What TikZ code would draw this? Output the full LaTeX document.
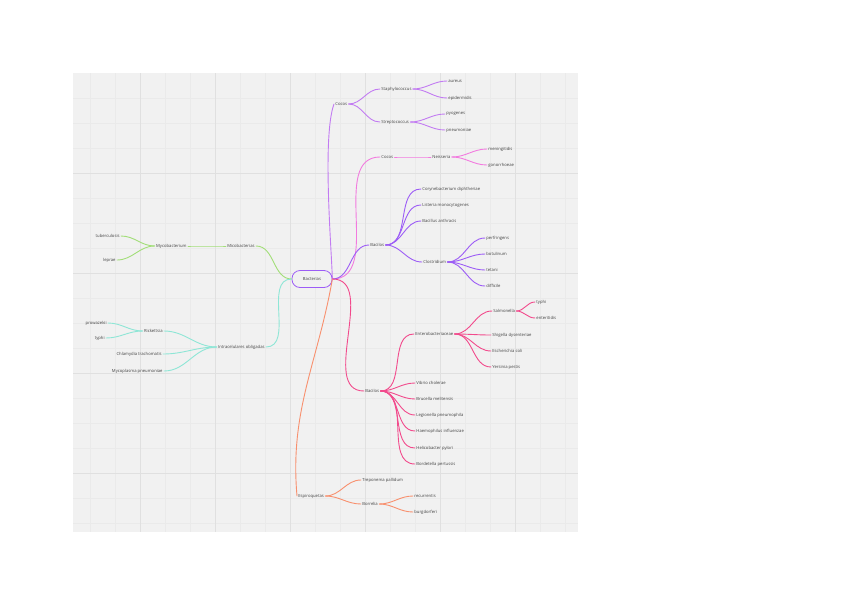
\documentclass[tikz,border=0pt]{standalone}
\usepackage{fontspec}
\setmainfont{Open Sans}
\usetikzlibrary{arrows.meta, positioning, calc}

\definecolor{gridbg}{HTML}{F1F1F1}
\definecolor{gridln}{HTML}{EAEAEA}
\definecolor{gridmj}{HTML}{E0E0E0}
\definecolor{txt}{HTML}{444444}
\definecolor{cgpos}{HTML}{C27BF2}
\definecolor{cgneg}{HTML}{F27ADF}
\definecolor{bgpos}{HTML}{9C5CF6}
\definecolor{bgneg}{HTML}{F24A8C}
\definecolor{espc}{HTML}{F8906E}
\definecolor{micc}{HTML}{A2DE78}
\definecolor{intc}{HTML}{8EE6D6}

\begin{document}
\begin{tikzpicture}[
  x=1pt, y=-1pt,
  every node/.style={font=\fontsize{4.2}{5}\selectfont, text=txt, inner sep=1.2pt},
  rt/.style={anchor=west},
  lt/.style={anchor=east},
  br/.style={line width=0.9pt, line cap=round},
  root/.style={draw=bgpos, line width=0.8pt, rounded corners=8pt, fill=gridbg,
               minimum width=40pt, minimum height=17pt}
]
\useasboundingbox (0,0) rectangle (848,600);

% background grid
\fill[gridbg] (73,73) rectangle (578,532);
\foreach \gx in {90,115,...,565} \draw[gridln, line width=0.5pt] (\gx,73) -- (\gx,532);
\foreach \gy in {98,123,...,523} \draw[gridln, line width=0.5pt] (73,\gy) -- (578,\gy);
\foreach \gx in {140,215,...,515} \draw[gridmj, line width=0.6pt] (\gx,73) -- (\gx,532);
\foreach \gy in {173,273,...,473} \draw[gridmj, line width=0.6pt] (73,\gy) -- (578,\gy);

% root
\node[root] (bact) at (312,279) {Bacterias};

% cocos gram +
\node[rt] (cocA)  at (334,104) {Cocos};
\node[rt] (staph) at (380,89)  {Staphylococcus};
\node[rt] (strep) at (380,122) {Streptococcus};
\node[rt] (aur)   at (447,81)  {aureus};
\node[rt] (epi)   at (447,98)  {epidermidis};
\node[rt] (pyo)   at (445,114) {pyogenes};
\node[rt] (pne)   at (445,130) {pneumoniae};

% cocos gram -
\node[rt] (cocB)  at (380,157) {Cocos};
\node[rt] (neis)  at (431,157) {Neisseria};
\node[rt] (men)   at (487,149) {meningitidis};
\node[rt] (gon)   at (487,165) {gonorrhoeae};

% bacilos gram +
\node[rt] (bacA)  at (369,245) {Bacilos};
\node[rt] (cory)  at (421,189) {Corynebacterium diphtheriae};
\node[rt] (list)  at (421,205) {Listeria monocytogenes};
\node[rt] (bant)  at (421,221) {Bacillus anthracis};
\node[rt] (clos)  at (422,262) {Clostridium};
\node[rt] (perf)  at (485,238) {perfringens};
\node[rt] (botu)  at (485,254) {botulinum};
\node[rt] (teta)  at (485,270) {tetani};
\node[rt] (diff)  at (485,286) {difficile};

% bacilos gram -
\node[rt] (bacB)  at (364,391) {Bacilos};
\node[rt] (entb)  at (414,334) {Enterobacteriaceae};
\node[rt] (salm)  at (492,311) {Salmonella};
\node[rt] (styp)  at (535,302) {typhi};
\node[rt] (sent)  at (535,318) {enteritidis};
\node[rt] (shig)  at (491,335) {Shigella dysenteriae};
\node[rt] (ecol)  at (491,351) {Escherichia coli};
\node[rt] (yers)  at (491,367) {Yersinia pestis};
\node[rt] (vibr)  at (415,383) {Vibrio cholerae};
\node[rt] (bruc)  at (415,399) {Brucella melitensis};
\node[rt] (legi)  at (415,415) {Legionella pneumophila};
\node[rt] (haem)  at (415,431) {Haemophilus influenzae};
\node[rt] (heli)  at (415,448) {Helicobacter pylori};
\node[rt] (bord)  at (415,464) {Bordetella pertussis};

% espiroquetas
\node[rt] (espi)  at (297,496) {Espiroquetas};
\node[rt] (trep)  at (361,480) {Treponema pallidum};
\node[rt] (borr)  at (361,504) {Borrelia};
\node[rt] (recu)  at (413,496) {recurrentis};
\node[rt] (burg)  at (413,512) {burgdorferi};

% micobacterias
\node[lt] (mico)  at (256,246) {Micobacterias};
\node[lt] (myco)  at (188,246) {Mycobacterium};
\node[lt] (tube)  at (121,236) {tuberculosis};
\node[lt] (lepr)  at (117,260) {leprae};

% intracelulares
\node[lt] (intr)  at (266,347) {Intracelulares obligadas};
\node[lt] (rick)  at (164,331) {Rickettsia};
\node[lt] (chla)  at (163,354) {Chlamydia trachomatis};
\node[lt] (mycp)  at (164,371) {Mycoplasma pneumoniae};
\node[lt] (prow)  at (108,323) {prowazekii};
\node[lt] (rtyp)  at (106,338) {typhi};

% branches from root
\draw[br, cgpos] (bact.east) to[out=92, in=250, looseness=0.5] (cocA.west);
\draw[br, cgneg] (bact.east) to[out=0, in=180] (cocB.west);
\draw[br, bgpos] (bact.east) to[out=0, in=180] (bacA.west);
\draw[br, bgneg] (bact.east) to[out=0, in=180] (bacB.west);
\draw[br, espc]  (bact.east) to[out=-100, in=95] (espi.west);
\draw[br, micc]  (bact.west) to[out=180, in=0] (mico.east);
\draw[br, intc]  (bact.west) to[out=180, in=0] (intr.east);

% cocos gram +
\foreach \k in {staph,strep} \draw[br, cgpos] (cocA.east) to[out=0, in=180] (\k.west);
\foreach \k in {aur,epi} \draw[br, cgpos] (staph.east) to[out=0, in=180] (\k.west);
\foreach \k in {pyo,pne} \draw[br, cgpos] (strep.east) to[out=0, in=180] (\k.west);

% cocos gram -
\draw[br, cgneg] (cocB.east) to[out=0, in=180] (neis.west);
\foreach \k in {men,gon} \draw[br, cgneg] (neis.east) to[out=0, in=180] (\k.west);

% bacilos gram +
\foreach \k in {cory,list,bant,clos} \draw[br, bgpos] (bacA.east) to[out=0, in=180] (\k.west);
\foreach \k in {perf,botu,teta,diff} \draw[br, bgpos] (clos.east) to[out=0, in=180] (\k.west);

% bacilos gram -
\foreach \k in {entb,vibr,bruc,legi,haem,heli,bord} \draw[br, bgneg] (bacB.east) to[out=0, in=180] (\k.west);
\foreach \k in {salm,shig,ecol,yers} \draw[br, bgneg] (entb.east) to[out=0, in=180] (\k.west);
\foreach \k in {styp,sent} \draw[br, bgneg] (salm.east) to[out=0, in=180] (\k.west);

% espiroquetas
\foreach \k in {trep,borr} \draw[br, espc] (espi.east) to[out=0, in=180] (\k.west);
\foreach \k in {recu,burg} \draw[br, espc] (borr.east) to[out=0, in=180] (\k.west);

% micobacterias
\draw[br, micc] (mico.west) to[out=180, in=0] (myco.east);
\foreach \k in {tube,lepr} \draw[br, micc] (myco.west) to[out=180, in=0] (\k.east);

% intracelulares
\foreach \k in {rick,chla,mycp} \draw[br, intc] (intr.west) to[out=180, in=0] (\k.east);
\foreach \k in {prow,rtyp} \draw[br, intc] (rick.west) to[out=180, in=0] (\k.east);
\end{tikzpicture}
\end{document}
